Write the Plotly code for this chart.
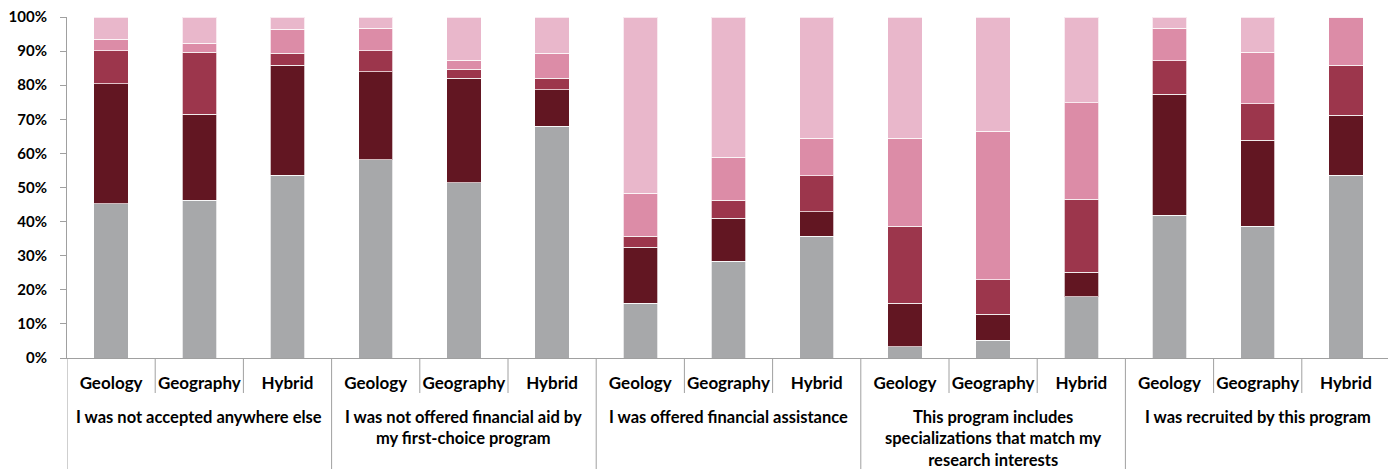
import plotly.graph_objects as go

# reasons x program type, 100% stacked
reasons = [
    "I was not accepted anywhere else",
    "I was not offered financial aid by<br>my first-choice program",
    "I was offered financial assistance",
    "This program includes<br>specializations that match my<br>research interests",
    "I was recruited by this program",
]
programs = ["Geology", "Geography", "Hybrid"]

# series values (percent), order: reason1 geo/geog/hyb, reason2 ..., ...
s1 = [45.2, 46.2, 53.6, 58.2, 51.4, 68.0, 16.1, 28.4, 35.7, 3.3, 5.2, 17.9, 41.8, 38.6, 53.6]
s2 = [35.3, 25.3, 32.2, 25.8, 30.6, 10.6, 16.4, 12.6, 7.2, 12.8, 7.7, 7.3, 35.5, 25.3, 17.6]
s3 = [9.6, 18.2, 3.5, 6.1, 2.7, 3.4, 3.2, 5.2, 10.6, 22.5, 10.1, 21.3, 9.9, 10.6, 14.6]
s4 = [3.4, 2.6, 7.1, 6.6, 2.6, 7.3, 12.6, 12.6, 10.9, 25.8, 43.5, 28.4, 9.5, 15.2, 14.2]
s5 = [6.5, 7.7, 3.6, 3.3, 12.7, 10.7, 51.7, 41.2, 35.6, 35.6, 33.5, 25.1, 3.3, 10.3, 0.0]

series = [s1, s2, s3, s4, s5]
colors = ["#A7A8AA", "#621622", "#9C364C", "#DC8CA7", "#E9B7CB"]

keys = [f"{i}|{p}" for i in range(len(reasons)) for p in programs]
sub_labels = [p for r in reasons for p in programs]

# page body has an 8px margin, so the figure is 16px smaller than the window
W, H = 1388, 461
mt, mb = 9, 111
plot_h = H - mt - mb
axis_col = "#A0A0A0"

fig = go.Figure()
for vals, c in zip(series, colors):
    fig.add_trace(go.Bar(
        x=keys, y=vals,
        marker=dict(color=c, line=dict(color="rgba(255,255,255,0.7)", width=1)),
        showlegend=False,
    ))

# separators under the axis: short ones between bars, long ones between groups
n = len(keys)
for k in range(n + 1):
    xpos = k - 0.5
    long = k % len(programs) == 0
    fig.add_shape(type="line", xref="x", yref="paper",
                  x0=xpos, x1=xpos, y0=0, y1=-(mb if long else 35) / plot_h,
                  line=dict(color=axis_col, width=1))

# group labels
for gi, r in enumerate(reasons):
    fig.add_annotation(x=gi * len(programs) + 1, xref="x",
                       y=-47 / plot_h, yref="paper", yanchor="top",
                       text=r, showarrow=False, align="center",
                       font=dict(family="Lato", size=16.5, color="black", weight="bold"))

fig.update_layout(
    barmode="stack",
    bargap=0.61,
    width=W, height=H,
    margin=dict(l=59, r=6, t=mt, b=mb),
    plot_bgcolor="white", paper_bgcolor="white",
    font=dict(family="Lato", size=15, color="black", weight="bold"),
)
fig.update_yaxes(
    range=[0, 100], dtick=10, ticksuffix="%",
    showline=True, linecolor=axis_col, linewidth=1,
    ticks="outside", ticklen=6, tickcolor=axis_col,
    ticklabelstandoff=10, ticklabeloverflow="allow",
    showgrid=False, zeroline=False, automargin=False,
    tickfont=dict(family="Lato", size=15, weight="bold"),
)
fig.update_xaxes(
    type="category", range=[-0.5, n - 0.5],
    tickvals=keys, ticktext=sub_labels,
    showline=True, linecolor=axis_col, linewidth=1,
    ticks="outside", ticklen=10, tickcolor="rgba(0,0,0,0)",
    automargin=False,
    tickfont=dict(family="Lato", size=17, weight="bold"),
)

fig.write_html("out.html")
